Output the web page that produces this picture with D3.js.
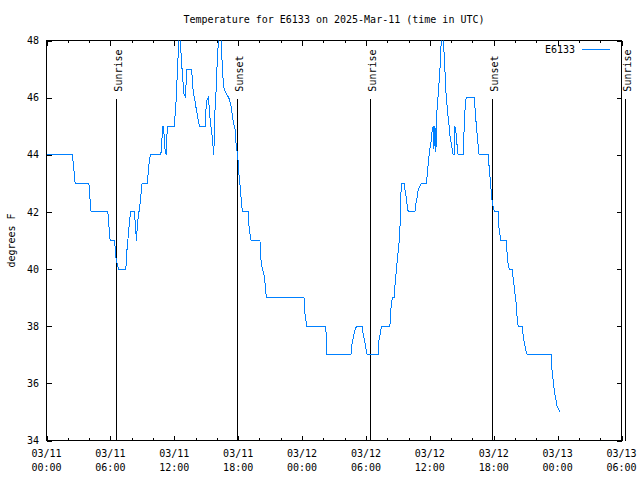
<!DOCTYPE html>
<html>
<head>
<meta charset="utf-8">
<script src="https://cdn.jsdelivr.net/npm/d3@7"></script>
<style>
  html, body { margin: 0; padding: 0; background: #fff; }
  svg { display: block; }
  text { font-family: "DejaVu Sans Mono", monospace; font-size: 10px; fill: #000; }
</style>
</head>
<body>
<svg id="chart" width="640" height="480"></svg>
<script>
// ---- data (hours since 2025-03-11 00:00 UTC, degrees F) ----
const hours = [0,2.44,2.53,2.63,2.69,3.98,4.05,4.13,4.19,5.76,5.84,5.91,5.98,6.42,6.45,6.57,6.76,7.45,7.54,7.64,7.73,7.83,7.92,8.26,8.35,8.45,8.54,8.79,8.98,9.48,9.57,9.67,9.76,10.74,10.83,10.92,11.00,11.09,11.23,11.35,11.98,12.11,12.20,12.29,12.39,12.45,12.55,12.64,12.73,12.83,12.92,13.02,13.11,13.18,13.64,13.70,13.79,13.89,14.02,14.21,14.36,14.89,14.96,15.05,15.20,15.30,15.39,15.52,15.62,15.71,15.77,15.83,15.92,15.99,16.08,16.18,16.27,16.39,16.46,16.55,16.65,16.74,16.93,17.12,17.33,17.52,17.71,17.80,17.90,17.99,18.08,18.18,18.27,18.34,18.43,18.96,19.02,19.12,19.21,20.05,20.08,20.18,20.27,20.43,20.52,20.62,20.71,24.18,24.25,24.37,24.46,26.22,26.28,26.34,28.59,28.66,28.75,28.87,29.00,29.13,29.65,29.75,29.88,30.00,30.12,31.16,31.22,31.47,32.25,32.32,32.41,32.51,32.66,32.72,32.82,32.91,33.00,33.10,33.19,33.26,33.35,33.59,33.66,33.75,33.85,33.97,34.60,34.69,34.81,34.91,35.07,35.19,35.70,35.75,35.85,35.94,36.04,36.13,36.22,36.32,36.38,36.48,36.57,36.66,36.76,36.94,37.04,37.10,37.23,37.32,37.41,37.54,37.63,37.72,37.82,37.91,38.01,38.10,38.19,38.32,38.35,38.45,38.54,38.66,39.13,39.23,39.32,39.41,40.16,40.26,40.35,40.45,40.54,40.63,41.48,41.54,41.64,41.73,41.80,41.89,41.98,42.11,42.42,42.48,42.58,42.67,43.20,43.26,43.35,43.45,43.73,43.82,43.92,44.01,44.11,44.20,44.29,44.67,44.73,44.83,44.95,45.04,45.17,47.39,47.46,47.55,47.64,47.76,47.86,47.95,48.08,48.21];
const temps = [44,44,43.6,43.3,43,43,42.6,42.3,42,42,41.6,41.3,41,41,40.6,40.3,40,40,40.6,41,41.4,41.8,42,42,41.5,41,41.6,42.3,43,43,43.5,43.8,44,44,44.5,45,45,44.3,44,45,45,45.5,46.1,46.9,47.7,48.3,48.3,47.5,47,46.5,46.1,46.05,46.5,47,47,46.5,46.2,46,45.7,45.3,45,45,45.5,45.9,46,45.6,45.1,44.8,44.4,44,44.9,45.6,46.2,46.9,47.6,48.1,48.2,48.2,47.5,46.8,46.35,46.25,46.1,46,45.7,45.2,44.9,44.4,44.1,43.8,43.3,42.9,42.5,42.2,42,42,41.5,41.2,41,41,40.5,40.2,40,39.8,39.5,39.1,39,39,38.5,38.2,38,38,37.6,37,37,37.3,37.5,37.7,37.9,38,38,37.7,37.5,37.2,37,37,37.5,38,38,38.5,38.84,39,39,39.4,39.8,40.2,40.5,40.9,41.35,42.5,43,43,42.8,42.6,42.3,42,42,42.3,42.5,42.8,42.9,43,43,43.3,43.7,44,44.3,44.5,44.85,45,44.2,45,44.1,45.5,46,46.9,47.7,48.3,48.3,47.7,47,46,45.7,45.3,45,44.6,44.4,44.2,44,44,45,44.8,44.4,44,44,45,45.67,46,46,45.55,45.1,44.7,44.3,44,44,43.7,43.27,42.9,42.5,42.3,42.1,42,42,41.5,41.2,41,41,40.5,40.2,40,40,39.7,39.4,39.1,38.8,38.3,38,38,37.8,37.5,37.3,37.1,37,37,36.5,36.2,35.9,35.57,35.4,35.2,35.1,35];
const sunHours = [6.51, 17.85, 30.40, 41.85, 54.37];
const sunLabels = ["Sunrise", "Sunset", "Sunrise", "Sunset", "Sunrise"];
const yTicks = [34,36,38,40,42,44,46,48];
const title = "Temperature for E6133 on 2025-Mar-11 (time in UTC)";
const seriesName = "E6133";
const yLabel = "degrees F";

// ---- setup ----
const svg = d3.select("#chart");
const t0 = new Date(Date.UTC(2025, 2, 11, 0, 0));
const t1 = new Date(Date.UTC(2025, 2, 13, 6, 0));
const toDate = h => new Date(t0.getTime() + h * 3600000);

const L = 46.5, R = 621.5, T = 40.5, B = 440.5;
const x = d3.scaleUtc().domain([t0, t1]).range([L, R]);
const y = d3.scaleLinear().domain([34, 48]).range([B, T]);

const data = hours.map((h, i) => ({ t: toDate(h), v: temps[i] }));

// clip
svg.append("defs").append("clipPath").attr("id", "plotclip")
  .append("rect").attr("x", L).attr("y", T).attr("width", R - L).attr("height", B - T);

// minor ticks (x, every 2h)
const minorX = d3.utcHour.every(2).range(t0, new Date(t1.getTime() + 1));
const majorX = d3.utcHour.every(6).range(t0, new Date(t1.getTime() + 1));

const axG = svg.append("g").attr("shape-rendering", "crispEdges");
function addAxis(axis, tr) {
  const g = axG.append("g").attr("transform", tr).call(axis);
  g.selectAll(".domain").remove();
  g.selectAll("text").remove();
  g.selectAll("line").attr("stroke", "#000");
}
addAxis(d3.axisBottom(x).tickValues(minorX).tickSize(-2.5).tickSizeOuter(0), `translate(0,${B})`);
addAxis(d3.axisTop(x).tickValues(minorX).tickSize(-2.5).tickSizeOuter(0), `translate(0,${T})`);
addAxis(d3.axisBottom(x).tickValues(majorX).tickSize(-5).tickSizeOuter(0), `translate(0,${B})`);
addAxis(d3.axisTop(x).tickValues(majorX).tickSize(-5).tickSizeOuter(0), `translate(0,${T})`);
addAxis(d3.axisLeft(y).tickValues(yTicks).tickSize(-5).tickSizeOuter(0), `translate(${L},0)`);
addAxis(d3.axisRight(y).tickValues(yTicks).tickSize(-5).tickSizeOuter(0), `translate(${R},0)`);

// frame
axG.append("rect").attr("x", L).attr("y", T).attr("width", R - L).attr("height", B - T)
  .attr("fill", "none").attr("stroke", "#000").attr("stroke-width", 1);

// y tick labels
svg.append("g").selectAll("text").data(yTicks).join("text")
  .attr("x", 39).attr("y", d => y(d)).attr("dy", "0.36em")
  .attr("text-anchor", "end").text(d => d);

// x tick labels
const fmtD = d3.utcFormat("%m/%d"), fmtT = d3.utcFormat("%H:%M");
const xl = svg.append("g").selectAll("text").data(majorX).join("text")
  .attr("text-anchor", "middle");
xl.append("tspan").attr("x", d => x(d)).attr("y", 457).text(d => fmtD(d));
xl.append("tspan").attr("x", d => x(d)).attr("y", 471).text(d => fmtT(d));

// sunrise / sunset lines
const sunG = svg.append("g");
sunHours.forEach((h, i) => {
  const sx = Math.round(x(toDate(h))) + 0.5;
  sunG.append("line").attr("x1", sx).attr("x2", sx).attr("y1", y(46) + 1).attr("y2", B)
    .attr("stroke", "#000").attr("stroke-width", 1).attr("shape-rendering", "crispEdges");
  sunG.append("text").attr("transform", `translate(${sx + 5},${y(46) - 6}) rotate(-90)`)
    .attr("text-anchor", "start").text(sunLabels[i]);
});

// data line
const line = d3.line().x(d => x(d.t)).y(d => y(d.v));
svg.append("path").datum(data).attr("clip-path", "url(#plotclip)")
  .attr("d", line).attr("fill", "none").attr("stroke", "#0080ff").attr("stroke-width", 1)
  .attr("shape-rendering", "crispEdges");

// title
svg.append("text").attr("x", (L + R) / 2).attr("y", 23).attr("text-anchor", "middle").text(title);

// y label
svg.append("text").attr("transform", `translate(15,${(T + B) / 2}) rotate(-90)`)
  .attr("text-anchor", "middle").text(yLabel);

// legend
svg.append("text").attr("x", 575).attr("y", 53).attr("text-anchor", "end").text(seriesName);
svg.append("line").attr("x1", 582).attr("x2", 610).attr("y1", 49.5).attr("y2", 49.5)
  .attr("stroke", "#0080ff").attr("stroke-width", 1).attr("shape-rendering", "crispEdges");
</script>
</body>
</html>
